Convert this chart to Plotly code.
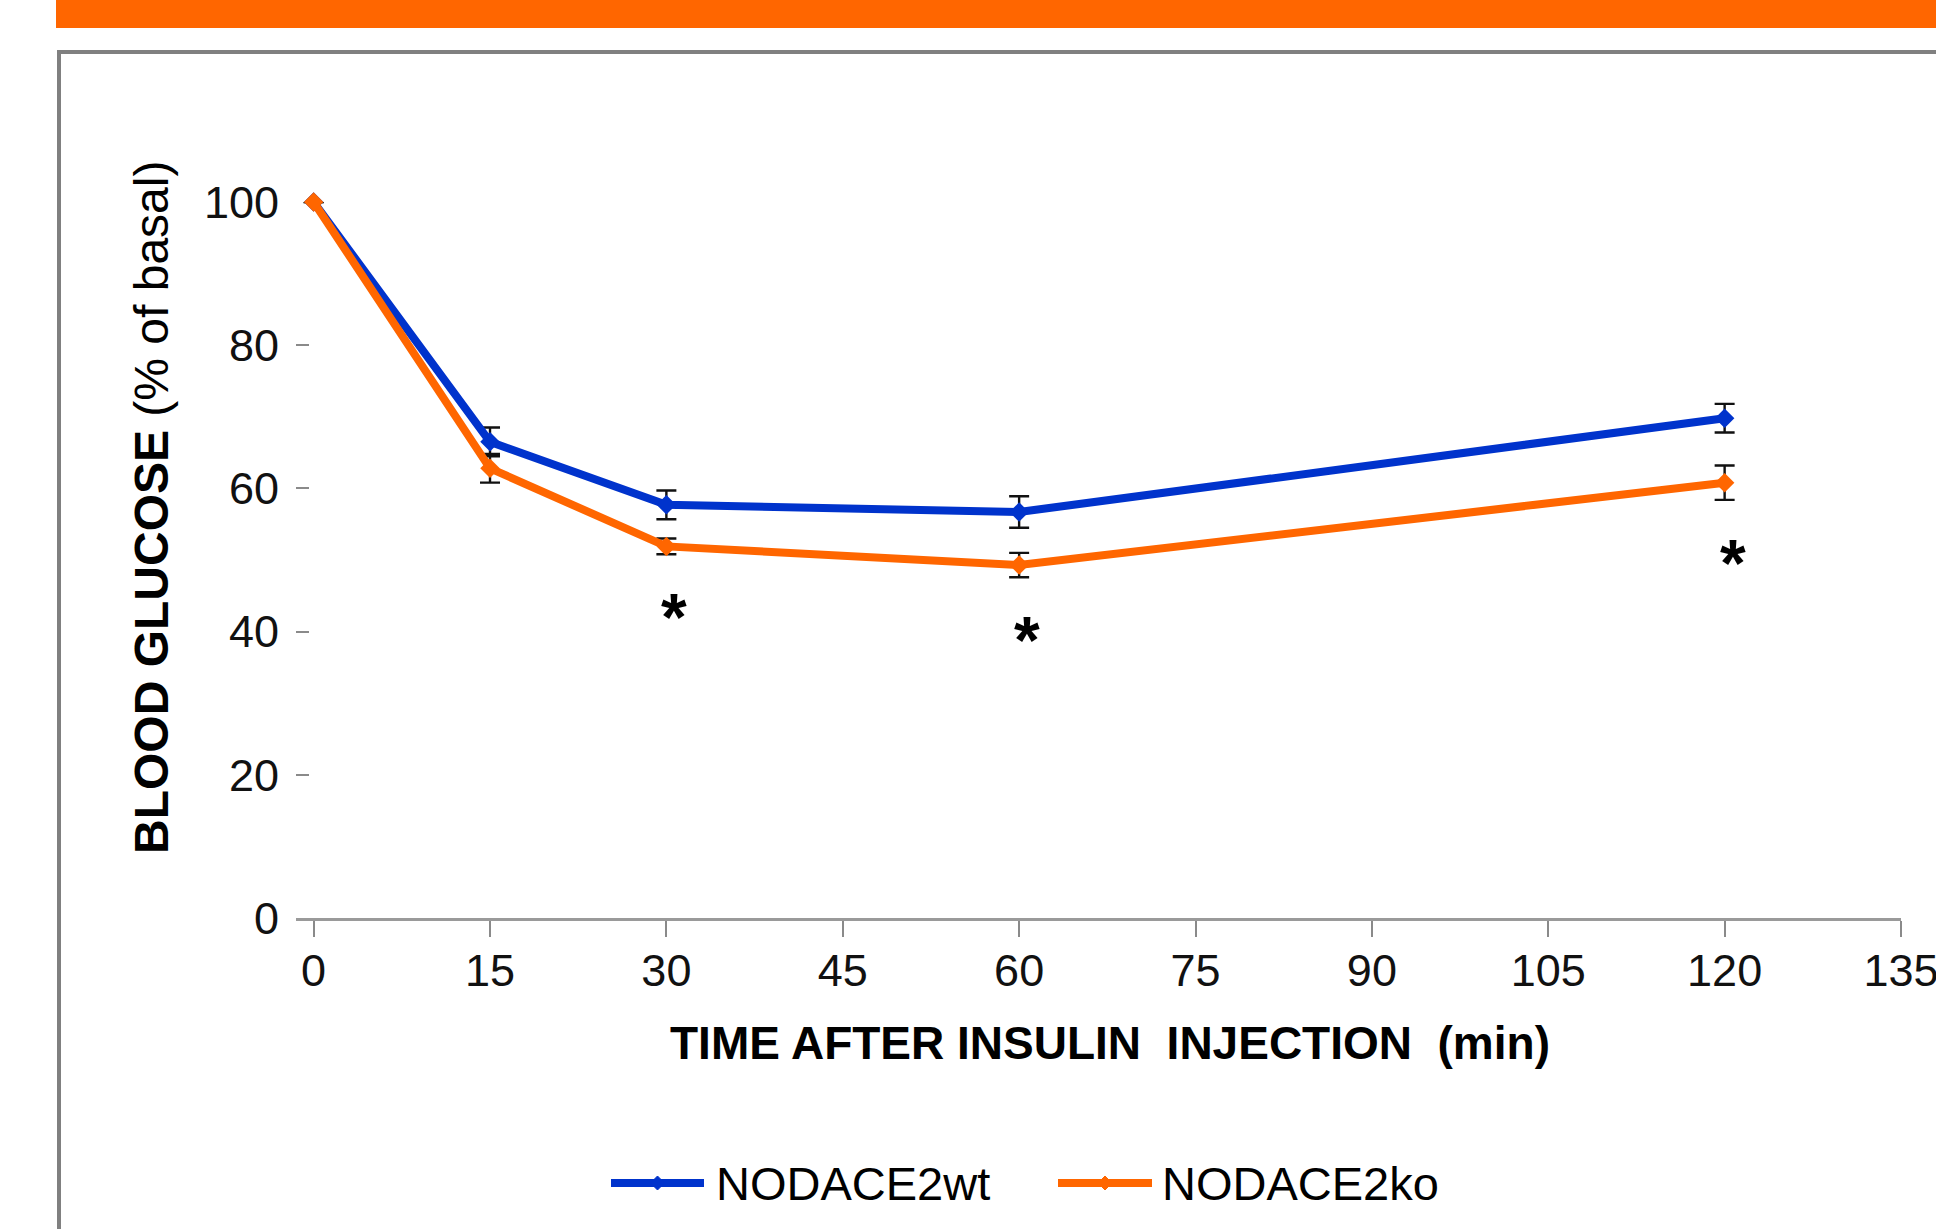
import plotly.graph_objects as go

# Time points after insulin injection (min)
time_min = [0, 15, 30, 60, 120]

# Blood glucose, % of basal (mean and SEM)
wt_mean = [100, 66.5, 57.7, 56.7, 69.8]
wt_sem = [0, 2.0, 2.0, 2.2, 2.0]
ko_mean = [100, 62.8, 51.9, 49.3, 60.8]
ko_sem = [0, 2.0, 1.1, 1.7, 2.4]

series_names = ["NODACE2wt", "NODACE2ko"]
series_colors = ["#0033CC", "#FF6600"]

# Time points with a significant wt/ko difference
sig_times = [30, 60, 120]

x_ticks = [0, 15, 30, 45, 60, 75, 90, 105, 120, 135]
y_ticks = [0, 20, 40, 60, 80, 100]

W, H = 1936, 1229
FONT = "Liberation Sans, Arial, sans-serif"


def px_x(v):
    return v / W


def px_y(v):
    return 1 - v / H


fig = go.Figure()

for name, color, mean, sem in [
    (series_names[0], series_colors[0], wt_mean, wt_sem),
    (series_names[1], series_colors[1], ko_mean, ko_sem),
]:
    fig.add_trace(go.Scatter(
        x=time_min, y=mean, name=name, mode="lines+markers",
        line=dict(color=color, width=8),
        marker=dict(symbol="diamond", size=15, color=color),
        error_y=dict(type="data", array=sem, visible=True,
                     color="#111111", thickness=2.4, width=10),
        cliponaxis=False, showlegend=False,
    ))

# significance asterisks below the knockout error bars
ko_by_t = dict(zip(time_min, zip(ko_mean, ko_sem)))
for t in sig_times:
    m, s = ko_by_t[t]
    fig.add_annotation(
        x=t, y=m - s, xref="x", yref="y", text="<b>*</b>", showarrow=False,
        font=dict(family=FONT, size=66, color="black"),
        yanchor="top", yshift=-24, xshift=8,
    )

# axis titles
fig.add_annotation(
    x=px_x(1110), y=px_y(1043), xref="paper", yref="paper",
    text="<b>TIME AFTER INSULIN  INJECTION  (min)</b>", showarrow=False,
    font=dict(family=FONT, size=46, color="black"),
    xanchor="center", yanchor="middle",
)
fig.add_annotation(
    x=px_x(151), y=px_y(508), xref="paper", yref="paper",
    text="<b>BLOOD GLUCOSE</b> (% of basal)", showarrow=False, textangle=-90,
    font=dict(family=FONT, size=48, color="black"),
    xanchor="center", yanchor="middle",
)

shapes = []
# orange banner on top
shapes.append(dict(type="rect", xref="paper", yref="paper",
                   x0=px_x(56), x1=1.0, y0=px_y(28), y1=1.0,
                   fillcolor="#FF6600", line=dict(width=0), layer="below"))
# grey frame (top and left edges)
shapes.append(dict(type="line", xref="paper", yref="paper",
                   x0=px_x(57), x1=1.0, y0=px_y(52), y1=px_y(52),
                   line=dict(color="#808080", width=4)))
shapes.append(dict(type="line", xref="paper", yref="paper",
                   x0=px_x(59), x1=px_x(59), y0=px_y(52), y1=0,
                   line=dict(color="#808080", width=4)))

# legend: line sample, small diamond and label for each series
leg_y = 1183
leg_items = [(611, 704, 714), (1058, 1152, 1160)]
for (lx0, lx1, tx), name, color in zip(leg_items, series_names, series_colors):
    shapes.append(dict(type="line", xref="paper", yref="paper",
                       x0=px_x(lx0), x1=px_x(lx1), y0=px_y(leg_y), y1=px_y(leg_y),
                       line=dict(color=color, width=8)))
    cx = (lx0 + lx1) / 2
    d = 7
    path = (f"M {px_x(cx)},{px_y(leg_y - d)} L {px_x(cx + d)},{px_y(leg_y)} "
            f"L {px_x(cx)},{px_y(leg_y + d)} L {px_x(cx - d)},{px_y(leg_y)} Z")
    shapes.append(dict(type="path", xref="paper", yref="paper", path=path,
                       fillcolor=color, line=dict(color=color, width=1)))
    fig.add_annotation(
        x=px_x(tx), y=px_y(leg_y), xref="paper", yref="paper",
        text=name, showarrow=False, xanchor="left", yanchor="middle",
        font=dict(family=FONT, size=47, color="black"),
    )

fig.update_layout(
    width=W, height=H,
    margin=dict(l=0, r=0, t=0, b=0, pad=0, autoexpand=False),
    paper_bgcolor="white", plot_bgcolor="white",
    shapes=shapes,
    font=dict(family=FONT, color="black"),
    xaxis=dict(
        domain=[px_x(296), px_x(1901)], range=[-1.5, 135],
        tickvals=x_ticks, ticktext=[str(v) for v in x_ticks],
        showgrid=False, zeroline=False, automargin=False,
        showline=True, linecolor="#9a9a9a", linewidth=3,
        ticks="outside", ticklen=16, tickwidth=2, tickcolor="#8a8a8a",
        tickfont=dict(family=FONT, size=45, color="#111111"),
        ticklabelstandoff=-5, ticklabeloverflow="allow",
    ),
    yaxis=dict(
        domain=[px_y(918), px_y(202)], range=[0, 100],
        tickvals=y_ticks, ticktext=[str(v) for v in y_ticks],
        showgrid=False, zeroline=False, showline=False, automargin=False,
        ticks="inside", ticklen=13, tickwidth=2, tickcolor="#8a8a8a",
        tickfont=dict(family=FONT, size=45, color="#111111"),
        ticklabelstandoff=16,
    ),
)

fig.write_html("out.html")
